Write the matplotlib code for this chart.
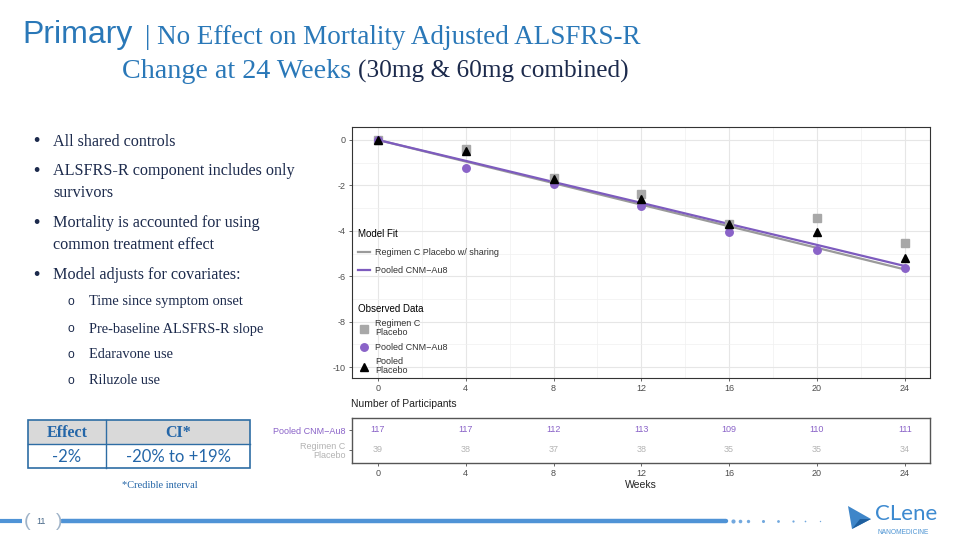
import matplotlib
matplotlib.use("Agg")
import matplotlib.pyplot as plt
from matplotlib.patches import Rectangle, Polygon

# ---------------- data ----------------
weeks = [0, 4, 8, 12, 16, 20, 24]
obs_regc_placebo = [0, -0.42, -1.66, -2.40, -3.70, -3.45, -4.55]
obs_pooled_cnm = [0, -1.25, -1.92, -2.90, -4.05, -4.85, -5.65]
obs_pooled_placebo = [0, -0.50, -1.72, -2.62, -3.68, -4.07, -5.18]
fit_regc_placebo = [0, -0.95, -1.90, -2.85, -3.80, -4.75, -5.70]
fit_pooled_cnm = [0, -0.92, -1.85, -2.77, -3.70, -4.62, -5.55]
n_pooled_cnm = [117, 117, 112, 113, 109, 110, 111]
n_regc_placebo = [39, 38, 37, 38, 35, 35, 34]
y_ticks = [0, -2, -4, -6, -8, -10]
bullets = ["All shared controls",
           "ALSFRS-R component includes only\nsurvivors",
           "Mortality is accounted for using\ncommon treatment effect",
           "Model adjusts for covariates:"]
sub_bullets = ["Time since symptom onset", "Pre-baseline ALSFRS-R slope",
               "Edaravone use", "Riluzole use"]
effect_header = ["Effect", "CI*"]
effect_row = ["-2%", "-20% to +19%"]

PURPLE = "#7d5bbe"
PURPLE_PT = "#8a63c8"
GRAY_LINE = "#9a9a9a"
GRAY_PT = "#a8a8a8"
BLUE = "#2a78b8"
NAVY = "#1c2a4c"
SANS = ["Liberation Sans", "DejaVu Sans"]
SERIF = ["Liberation Serif", "DejaVu Serif"]

fig = plt.figure(figsize=(9.6, 5.4), dpi=100)
fig.patch.set_facecolor("white")
renderer = fig.canvas.get_renderer()

bg = fig.add_axes([0, 0, 1, 1], zorder=-5)
bg.set_xlim(0, 960)
bg.set_ylim(540, 0)
bg.axis("off")


def fitted(x, y, s, width, ha="left", va="baseline", **kw):
    t = bg.text(x, y, s, ha=ha, va=va, fontsize=10, **kw)
    w = t.get_window_extent(renderer).width
    t.set_fontsize(10 * width / w)
    return t


# ---------------- title ----------------
fitted(22, 43, "Primary", 111, color=BLUE, family=SANS)
fitted(145, 44, "| No Effect on Mortality Adjusted ALSFRS-R", 497, color=BLUE, family=SERIF)
fitted(122, 78, "Change at 24 Weeks", 230, color=BLUE, family=SERIF)
fitted(358, 78, "(30mg & 60mg combined)", 269, color=NAVY, family=SERIF)

# ---------------- bullets ----------------
bfs = 11.6
bpos = [142, 171, 223, 275]
for s, y in zip(bullets, bpos):
    bg.text(33, y, "\u2022", fontsize=bfs * 1.1, color=NAVY, va="center", family=SANS)
    bg.text(53, y - 8, s, fontsize=bfs, color=NAVY, va="top", family=SERIF,
            linespacing=1.5)
sfs = 10.4
for s, y in zip(sub_bullets, [302, 329, 355, 381]):
    bg.text(68, y, "o", fontsize=sfs * 0.85, color=NAVY, va="center", family=SANS)
    bg.text(89, y, s, fontsize=sfs, color=NAVY, va="center", family=SERIF)

# ---------------- effect table ----------------
bg.add_patch(Rectangle((28, 420), 222, 24, facecolor="#d9d9d9", edgecolor="none"))
bg.add_patch(Rectangle((28, 420), 222, 48, facecolor="none", edgecolor="#2e6da4", lw=1.2))
bg.plot([28, 250], [444, 444], color="#2e6da4", lw=1.0)
bg.plot([106, 106], [420, 468], color="#2e6da4", lw=1.0)
bg.text(67, 433, effect_header[0], ha="center", va="center", fontsize=11.5,
        color="#2466a8", weight="bold", family=SERIF)
bg.text(178, 433, effect_header[1], ha="center", va="center", fontsize=11.5,
        color="#2466a8", weight="bold", family=SERIF)
bg.text(67, 457, effect_row[0], ha="center", va="center", fontsize=12,
        color="#2466a8", family=["Lato", "DejaVu Sans"])
bg.text(178, 457, effect_row[1], ha="center", va="center", fontsize=12,
        color="#2466a8", family=["Lato", "DejaVu Sans"])
bg.text(160, 486, "*Credible interval", ha="center", va="center", fontsize=7.5,
        color="#2466a8", family=SERIF)

# ---------------- footer ----------------
FOOT = "#4f93d6"
bg.plot([0, 22], [521, 521], color=FOOT, lw=3.0, solid_capstyle="butt")
bg.plot([62, 726], [521, 521], color=FOOT, lw=3.2, solid_capstyle="round")
for x, s in zip([733, 740, 748, 763, 778, 793, 805, 820],
                [3.0, 2.6, 2.4, 2.2, 2.0, 1.6, 1.2, 1.0]):
    bg.plot(x, 521, "o", color=FOOT, ms=s, alpha=0.8, mec="none")
bg.text(24, 521, "(", fontsize=14, color="#9fb3c8", va="center", family=SANS,
        weight="light")
bg.text(56, 521, ")", fontsize=14, color="#9fb3c8", va="center", family=SANS,
        weight="light")
bg.text(41, 522, "11", fontsize=6.5, color="#4a6a8a", ha="center", va="center", family=SANS)
bg.add_patch(Polygon([[848, 506], [852, 529], [871, 519]], closed=True,
                     facecolor="#3f86c9", edgecolor="none"))
bg.add_patch(Polygon([[852, 529], [871, 519], [860, 519]], closed=True,
                     facecolor="#1f5f9e", edgecolor="none"))
bg.text(875, 514, "CLene", fontsize=16, color="#3d8ad0", va="center",
        family=["Lato", "DejaVu Sans"])
bg.text(877, 532, "NANOMEDICINE", fontsize=4.8, color="#4d94d3", va="center",
        family=SANS)

# ---------------- main plot ----------------
L, R, T, B = 352, 930, 127, 378
ax = fig.add_axes([L / 960, 1 - B / 540, (R - L) / 960, (B - T) / 540])
ax.set_facecolor("white")
ax.set_xlim(-1.18, 25.15)
ax.set_ylim(-10.48, 0.57)
ax.set_xticks(weeks)
ax.set_xticks([2, 6, 10, 14, 18, 22], minor=True)
ax.set_yticks(y_ticks)
ax.set_yticks([-1, -3, -5, -7, -9], minor=True)
ax.set_yticklabels([str(v) for v in y_ticks])
ax.grid(True, which="major", color="#e6e6e6", lw=0.8)
ax.grid(True, which="minor", color="#f0f0f0", lw=0.5)
ax.set_axisbelow(True)
for sp in ax.spines.values():
    sp.set_color("#333333")
    sp.set_linewidth(0.8)
ax.tick_params(axis="both", which="major", labelsize=6.5, colors="#4d4d4d",
               length=2.5, width=0.6, pad=2)
ax.tick_params(which="minor", length=0)
for lab in ax.get_xticklabels() + ax.get_yticklabels():
    lab.set_family(SANS)

l1, = ax.plot(weeks, fit_regc_placebo, color=GRAY_LINE, lw=1.6)
l2, = ax.plot(weeks, fit_pooled_cnm, color=PURPLE, lw=1.6)
p1, = ax.plot(weeks, obs_regc_placebo, "s", color=GRAY_PT, ms=5.3, ls="none")
p2, = ax.plot(weeks, obs_pooled_cnm, "o", color=PURPLE_PT, ms=5.4, ls="none")
p3, = ax.plot(weeks, obs_pooled_placebo, "^", color="black", ms=5.8, ls="none")

leg_kw = dict(frameon=False, handlelength=1.3, handletextpad=0.6,
              borderaxespad=0, borderpad=0, title_fontsize=7,
              alignment="left", prop={"family": SANS, "size": 6.5})
leg1 = ax.legend([l1, l2], ["Regimen C Placebo w/ sharing", "Pooled CNM\u2212Au8"],
                 title="Model Fit", loc="upper left",
                 bbox_to_anchor=((358 - L) / (R - L), (B - 229) / (B - T)),
                 labelspacing=1.0, **leg_kw)
leg1.get_title().set_family(SANS)
ax.add_artist(leg1)
leg2 = ax.legend([p1, p2, p3], ["Regimen C\nPlacebo", "Pooled CNM\u2212Au8", "Pooled\nPlacebo"],
                 title="Observed Data", loc="upper left",
                 bbox_to_anchor=((358 - L) / (R - L), (B - 304) / (B - T)),
                 labelspacing=0.6, **leg_kw)
leg2.get_title().set_family(SANS)
for t in leg1.get_texts() + leg2.get_texts():
    t.set_color("#333333")
    t.set_linespacing(1.0)

# ---------------- risk table ----------------
RT, RB = 418, 463
rax = fig.add_axes([L / 960, 1 - RB / 540, (R - L) / 960, (RB - RT) / 540])
rax.set_xlim(-1.18, 25.15)
rax.set_ylim(-0.65, 1.6)
for x, n1, n2 in zip(weeks, n_pooled_cnm, n_regc_placebo):
    rax.text(x, 1, str(n1), ha="center", va="center", fontsize=6.5, color=PURPLE_PT, family=SANS)
    rax.text(x, 0, str(n2), ha="center", va="center", fontsize=6.5, color="#b3b3b3", family=SANS)
rax.set_xticks(weeks)
rax.set_yticks([1, 0])
rax.set_yticklabels(["Pooled CNM\u2212Au8", "Regimen C\nPlacebo"])
ylabs = rax.get_yticklabels()
for lab in rax.get_xticklabels() + ylabs:
    lab.set_family(SANS)
    lab.set_linespacing(1.0)
rax.tick_params(axis="both", labelsize=6.5, length=2.5, width=0.6, pad=2, colors="#4d4d4d")
for lab, c in zip(ylabs, [PURPLE_PT, "#b3b3b3"]):
    lab.set_color(c)
for sp in rax.spines.values():
    sp.set_color("#555555")
    sp.set_linewidth(1.0)
rax.set_xlabel("Weeks", fontsize=7.5, labelpad=1, color="#222222", family=SANS)
bg.text(351, 404, "Number of Participants", fontsize=7.5, color="#222222",
        va="center", family=SANS)

fig.savefig("out.png", dpi=100)
